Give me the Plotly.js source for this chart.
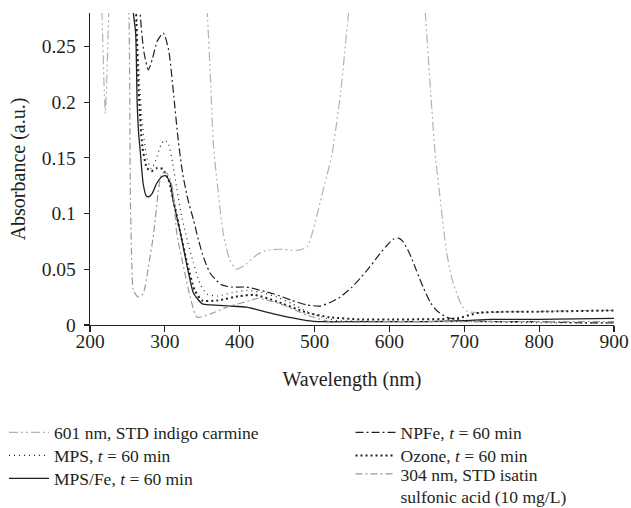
<!DOCTYPE html>
<html><head><meta charset="utf-8">
<script src="https://cdn.plot.ly/plotly-3.0.1.min.js"></script>
<style>html,body{margin:0;padding:0;background:#fff}#chart{width:631px;height:508px}</style>
</head><body><div id="chart"></div>
<script>
// 601 nm, STD indigo carmine
const indigoX = [212,216,220.5,225,228,240,300,350,357,361,365,370,378,387,396,409,423,436,454,476,490,498,507,516,523,535,545,560,600,612,630,640,648,655,661,667,676,683,690,698,705,720,760,800,850,900];
const indigoY = [0.40,0.28,0.19,0.28,0.34,0.50,0.60,0.35,0.276,0.22,0.161,0.127,0.082,0.058,0.050,0.055,0.063,0.067,0.068,0.067,0.070,0.085,0.109,0.133,0.152,0.21,0.277,0.36,0.55,0.58,0.48,0.38,0.28,0.21,0.154,0.118,0.067,0.043,0.028,0.016,0.012,0.011,0.012,0.012,0.013,0.013];
// NPFe, t = 60 min
const npfeX = [262,267,272,278,283,290,298,305,312,318,324,331,338,345,352,361,376,390,409,445,470,490,507,520,534,550,570,585,596,605,612,618,627,636,645,655,663,676,690,700,750,800,850,900];
const npfeY = [0.36,0.28,0.245,0.229,0.238,0.255,0.262,0.247,0.205,0.165,0.135,0.112,0.095,0.076,0.060,0.046,0.036,0.034,0.034,0.028,0.022,0.018,0.017,0.020,0.025,0.034,0.049,0.062,0.071,0.077,0.078,0.075,0.064,0.049,0.034,0.020,0.013,0.007,0.005,0.004,0.003,0.003,0.002,0.002];
// MPS, t = 60 min
const mpsX = [258,262,266,270,276,282,288,295,300,305,310,316,322,330,338,347,356,370,390,410,430,450,470,490,510,530,600,700,800,900];
const mpsY = [0.40,0.28,0.22,0.18,0.15,0.14,0.148,0.162,0.166,0.162,0.147,0.122,0.099,0.076,0.056,0.037,0.028,0.026,0.029,0.031,0.029,0.025,0.019,0.012,0.007,0.004,0.003,0.003,0.002,0.002];
// Ozone, t = 60 min
const ozoneX = [258,262,265,270,276,282,290,297,305,312,320,330,340,350,370,400,420,450,490,520,560,600,690,720,800,900];
const ozoneY = [0.40,0.27,0.21,0.16,0.141,0.138,0.141,0.140,0.130,0.110,0.085,0.055,0.031,0.022,0.022,0.026,0.027,0.021,0.011,0.007,0.005,0.005,0.006,0.011,0.012,0.013];
// MPS/Fe, t = 60 min
const mpsfeX = [250,258,261,263,265,267,271,275,278,283,289,296,301,307,311,316,321,330,338,343,350,361,387,409,445,490,510,550,600,650,700,735,800,900];
const mpsfeY = [0.45,0.28,0.262,0.20,0.172,0.157,0.127,0.116,0.115,0.118,0.127,0.133,0.134,0.128,0.112,0.097,0.082,0.052,0.029,0.024,0.019,0.018,0.017,0.016,0.010,0.004,0.003,0.003,0.003,0.003,0.004,0.005,0.005,0.006];
// 304 nm, STD isatin sulfonic acid (10 mg/L)
const isatinX = [240,252,254,256,258,265,271,278,285,292,296,303,310,316,325,334,343,361,383,414,425,454,490,521,600,700,800,900];
const isatinY = [0.50,0.28,0.112,0.052,0.031,0.025,0.028,0.052,0.082,0.124,0.136,0.136,0.124,0.082,0.052,0.025,0.007,0.010,0.016,0.022,0.024,0.019,0.009,0.003,0.003,0.003,0.003,0.003];

const names = [
  '601 nm, STD indigo carmine',
  'NPFe, <i>t</i> = 60 min',
  'MPS, <i>t</i> = 60 min',
  'Ozone, <i>t</i> = 60 min',
  'MPS/Fe, <i>t</i> = 60 min',
  '304 nm, STD isatin<br>sulfonic acid (10 mg/L)'
];

const ink = '#231f20';
function tr(x, y, name, legend, line) {
  return {x: x, y: y, name: name, legend: legend, type: 'scatter', mode: 'lines',
          line: Object.assign({shape: 'spline', smoothing: 0.6}, line), hoverinfo: 'skip'};
}
const data = [
  tr(indigoX, indigoY, names[0], 'legend', {color: '#b3b3b3', width: 1.2, dash: '9px,3px,2px,3px,2px,3px'}),
  tr(npfeX, npfeY, names[1], 'legend4', {color: ink, width: 1.2, dash: '8px,3px,2px,3px'}),
  tr(mpsX, mpsY, names[2], 'legend2', {color: ink, width: 1.2, dash: '1px,4px'}),
  tr(ozoneX, ozoneY, names[3], 'legend5', {color: ink, width: 2, dash: '2px,3px'}),
  tr(mpsfeX, mpsfeY, names[4], 'legend3', {color: ink, width: 1.3}),
  tr(isatinX, isatinY, names[5], 'legend6', {color: '#9a9a9a', width: 1.2, dash: '7px,3px,2px,3px'})
];

const fontFam = '"Liberation Serif", "Times New Roman", serif';
const H = 312, bottom = 325;
function leg(xPx, topPx) {
  return {x: (xPx - 90) / 524, xanchor: 'left', y: (bottom - topPx) / H, yanchor: 'top',
          bgcolor: 'rgba(0,0,0,0)', font: {size: 17.5, family: fontFam}, itemwidth: 40, valign: 'top'};
}
const layout = {
  width: 631, height: 508,
  margin: {l: 90, r: 17, t: 13, b: 183, autoexpand: false},
  paper_bgcolor: '#fff', plot_bgcolor: '#fff',
  font: {family: fontFam, size: 19.5, color: ink},
  showlegend: true,
  xaxis: {range: [200, 900], dtick: 100, tick0: 200, ticks: 'outside', ticklen: 6, tickwidth: 1.2, tickcolor: ink,
          ticklabelstandoff: -8, tickfont: {size: 19.5},
          showline: true, linecolor: ink, linewidth: 1.3, showgrid: false, zeroline: false,
          title: {text: 'Wavelength (nm)', font: {size: 20}, standoff: 21}},
  yaxis: {range: [0, 0.28], dtick: 0.05, tick0: 0, ticks: 'outside', ticklen: 5, tickwidth: 1.2, tickcolor: ink,
          ticklabelstandoff: 4, tickfont: {size: 19.5},
          showline: true, linecolor: ink, linewidth: 1.3, showgrid: false, zeroline: false,
          title: {text: 'Absorbance (a.u.)', font: {size: 20}, standoff: 10}},
  legend: leg(4, 414.5),
  legend2: leg(4, 437.5),
  legend3: leg(4, 460.5),
  legend4: leg(350.5, 414.5),
  legend5: leg(350.5, 437.5),
  legend6: leg(350.5, 456)
};
Plotly.newPlot('chart', data, layout, {displayModeBar: false, staticPlot: true});
</script>
</body></html>
